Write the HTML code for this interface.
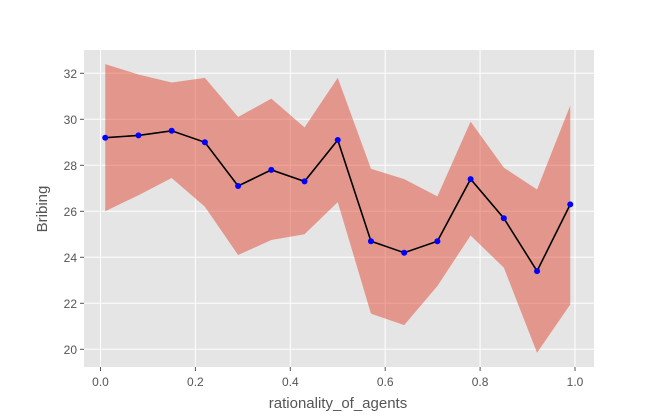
<!DOCTYPE html>
<html><head><meta charset="utf-8"><style>
body{margin:0;background:#fff}
text{font-family:"Liberation Sans","DejaVu Sans",sans-serif}
</style></head><body>
<svg id="chart" width="660" height="412" xmlns="http://www.w3.org/2000/svg">
<rect x="84" y="50" width="510" height="317" fill="#e5e5e5"/>
<g id="grid"></g>
<path id="band" fill="#e24a33" fill-opacity="0.5"/>
<path id="line" fill="none" stroke="#000" stroke-width="1.6"/>
<g id="pts"></g>
<g id="ticks"></g>
<text x="338" y="408" text-anchor="middle" font-size="15" fill="#555">rationality_of_agents</text>
<text x="47" y="209" text-anchor="middle" font-size="15" fill="#555" transform="rotate(-90 47 209)">Bribing</text>
</svg>
<script>
const xs=[0.01,0.08,0.15,0.22,0.29,0.36,0.43,0.5,0.57,0.64,0.71,0.78,0.85,0.92,0.99];
const means=[29.2,29.3,29.5,29.0,27.1,27.8,27.3,29.1,24.7,24.2,24.7,27.4,25.7,23.4,26.3];
const uppers=[32.4,31.95,31.6,31.8,30.1,30.9,29.65,31.8,27.85,27.4,26.65,29.9,27.9,26.95,30.6];
const lowers=[26.0,26.7,27.45,26.2,24.1,24.75,25.0,26.4,21.55,21.05,22.75,24.95,23.55,19.85,21.95];
const xTicks=[0,0.2,0.4,0.6,0.8,1.0];
const xTickLabels=["0.0","0.2","0.4","0.6","0.8","1.0"];
const yTicks=[20,22,24,26,28,30,32];
const X=v=>100.5+v*474.5, Y=v=>73.3+(32-v)*23;
const ns="http://www.w3.org/2000/svg";
function mk(t,a,p){const e=document.createElementNS(ns,t);for(const k in a)e.setAttribute(k,a[k]);p.appendChild(e);return e;}
const grid=document.getElementById('grid'),ticks=document.getElementById('ticks'),pts=document.getElementById('pts');
xTicks.forEach((v,i)=>{
 const g=mk('line',{x1:X(v),x2:X(v),y1:50,y2:367,stroke:'#fff','stroke-width':1},grid);
 
 
 mk('line',{x1:X(v),x2:X(v),y1:367,y2:371,stroke:'#555'},ticks);
 const t=mk('text',{x:X(v),y:386,'text-anchor':'middle','font-size':12,fill:'#555'},ticks);
 t.textContent=xTickLabels[i];
 
 
});
yTicks.forEach(v=>{
 const g=mk('line',{x1:84,x2:594,y1:Y(v),y2:Y(v),stroke:'#fff','stroke-width':1},grid);
 
 
 mk('line',{x1:80,x2:84,y1:Y(v),y2:Y(v),stroke:'#555'},ticks);
 const t=mk('text',{x:77,y:Y(v)+4.5,'text-anchor':'end','font-size':12,fill:'#555'},ticks);
 t.textContent=String(v);
 
 
});
let d=xs.map((x,i)=>(i?'L':'M')+X(x)+','+Y(uppers[i])).join('');
for(let i=xs.length-1;i>=0;i--)d+='L'+X(xs[i])+','+Y(lowers[i]);
document.getElementById('band').setAttribute('d',d+'Z');
document.getElementById('line').setAttribute('d',xs.map((x,i)=>(i?'L':'M')+X(x)+','+Y(means[i])).join(''));
xs.forEach((x,i)=>{
 const c=mk('circle',{cx:X(x),cy:Y(means[i]),r:3,fill:'#0000ff'},pts);
 
 
});
</script>
</body></html>
